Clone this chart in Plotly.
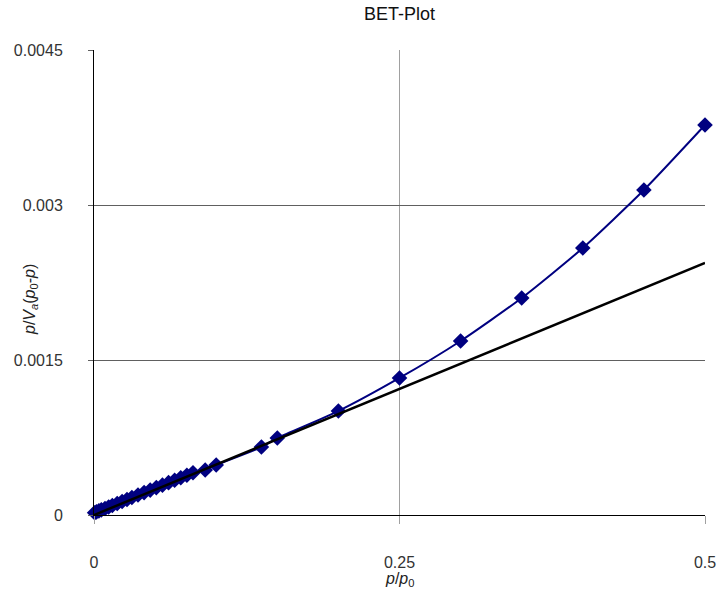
import plotly.graph_objects as go

# Measured BET data: relative pressure p/p0 and p/(Va(p0-p))
rel_p = [0.0005, 0.002, 0.004, 0.006, 0.009, 0.012, 0.015, 0.019, 0.023, 0.027,
         0.031, 0.036, 0.041, 0.046, 0.051, 0.056, 0.061, 0.066, 0.071, 0.076,
         0.081, 0.091, 0.10, 0.137, 0.15, 0.20, 0.25, 0.30, 0.35, 0.40, 0.45, 0.50]
bet_y = [0.000022, 0.00003, 0.00004, 0.00005, 0.000063, 0.000078, 0.000092, 0.000111,
         0.00013, 0.00015, 0.000169, 0.000193, 0.000217, 0.000241, 0.000265, 0.000289,
         0.000313, 0.000337, 0.000361, 0.000385, 0.000409, 0.000435, 0.000484, 0.000658,
         0.000745, 0.001006, 0.001326, 0.001684, 0.0021, 0.002584, 0.003145, 0.003774]

# Linear BET fit line endpoints
fit_x = [0.0, 0.5]
fit_y = [0.0, 0.00244]

x_ticks = [0, 0.25, 0.5]
x_ticktext = ["0", "0.25", "0.5"]
y_ticks = [0, 0.0015, 0.003, 0.0045]
y_ticktext = ["0", "0.0015", "0.003", "0.0045"]

fig = go.Figure()
fig.add_trace(go.Scatter(
    x=rel_p, y=bet_y, mode="lines+markers",
    line=dict(color="#000080", width=2, shape="spline", smoothing=0.6),
    marker=dict(symbol="diamond", size=12, color="#000080"),
    cliponaxis=False, showlegend=False))
fig.add_trace(go.Scatter(
    x=fit_x, y=fit_y, mode="lines",
    line=dict(color="black", width=2.5),
    cliponaxis=False, showlegend=False))

W, H = 721, 594
font_family = "Liberation Sans, Arial, sans-serif"
fig.update_layout(
    width=W, height=H,
    margin=dict(l=94, r=16, t=50, b=79),
    paper_bgcolor="white", plot_bgcolor="white",
    font=dict(family=font_family, size=16, color="#333333"),
    title=dict(text="BET-Plot", x=0.5, xref="paper", xanchor="center",
               y=1 - 14 / H, yref="container", yanchor="middle",
               font=dict(size=18, color="#111111")),
    xaxis=dict(range=[0, 0.5], tickvals=x_ticks, ticktext=x_ticktext,
               showgrid=True, gridcolor="#a0a0a0", gridwidth=1,
               showline=True, linecolor="black", linewidth=1,
               ticks="outside", ticklen=8, tickcolor="#a0a0a0",
               ticklabelstandoff=25, zeroline=False, automargin=False),
    yaxis=dict(range=[0, 0.0045], tickvals=y_ticks, ticktext=y_ticktext,
               showgrid=True, gridcolor="#606060", gridwidth=1,
               showline=True, linecolor="black", linewidth=1,
               ticks="outside", ticklen=5, tickcolor="#606060",
               ticklabelstandoff=22, zeroline=False, automargin=False),
    annotations=[
        dict(text="<i>p</i>/<i>p</i><sub>0</sub>", xref="paper", yref="paper",
             x=0.5, y=-65 / 465, xanchor="center", yanchor="middle",
             showarrow=False, font=dict(size=16, color="#222222")),
        dict(text="<i>p</i>/<i>V</i><sub><i>a</i></sub>(<i>p</i><sub>0</sub>-<i>p</i>)",
             xref="paper", yref="paper", x=(30 - 94) / 611, y=(515 - 300) / 465,
             xanchor="center", yanchor="middle", textangle=-90,
             showarrow=False, font=dict(size=16, color="#222222")),
    ],
)
fig.write_html("out.html", config={"displayModeBar": False},
               post_script="document.body.style.margin='0';document.body.style.overflow='hidden';")
